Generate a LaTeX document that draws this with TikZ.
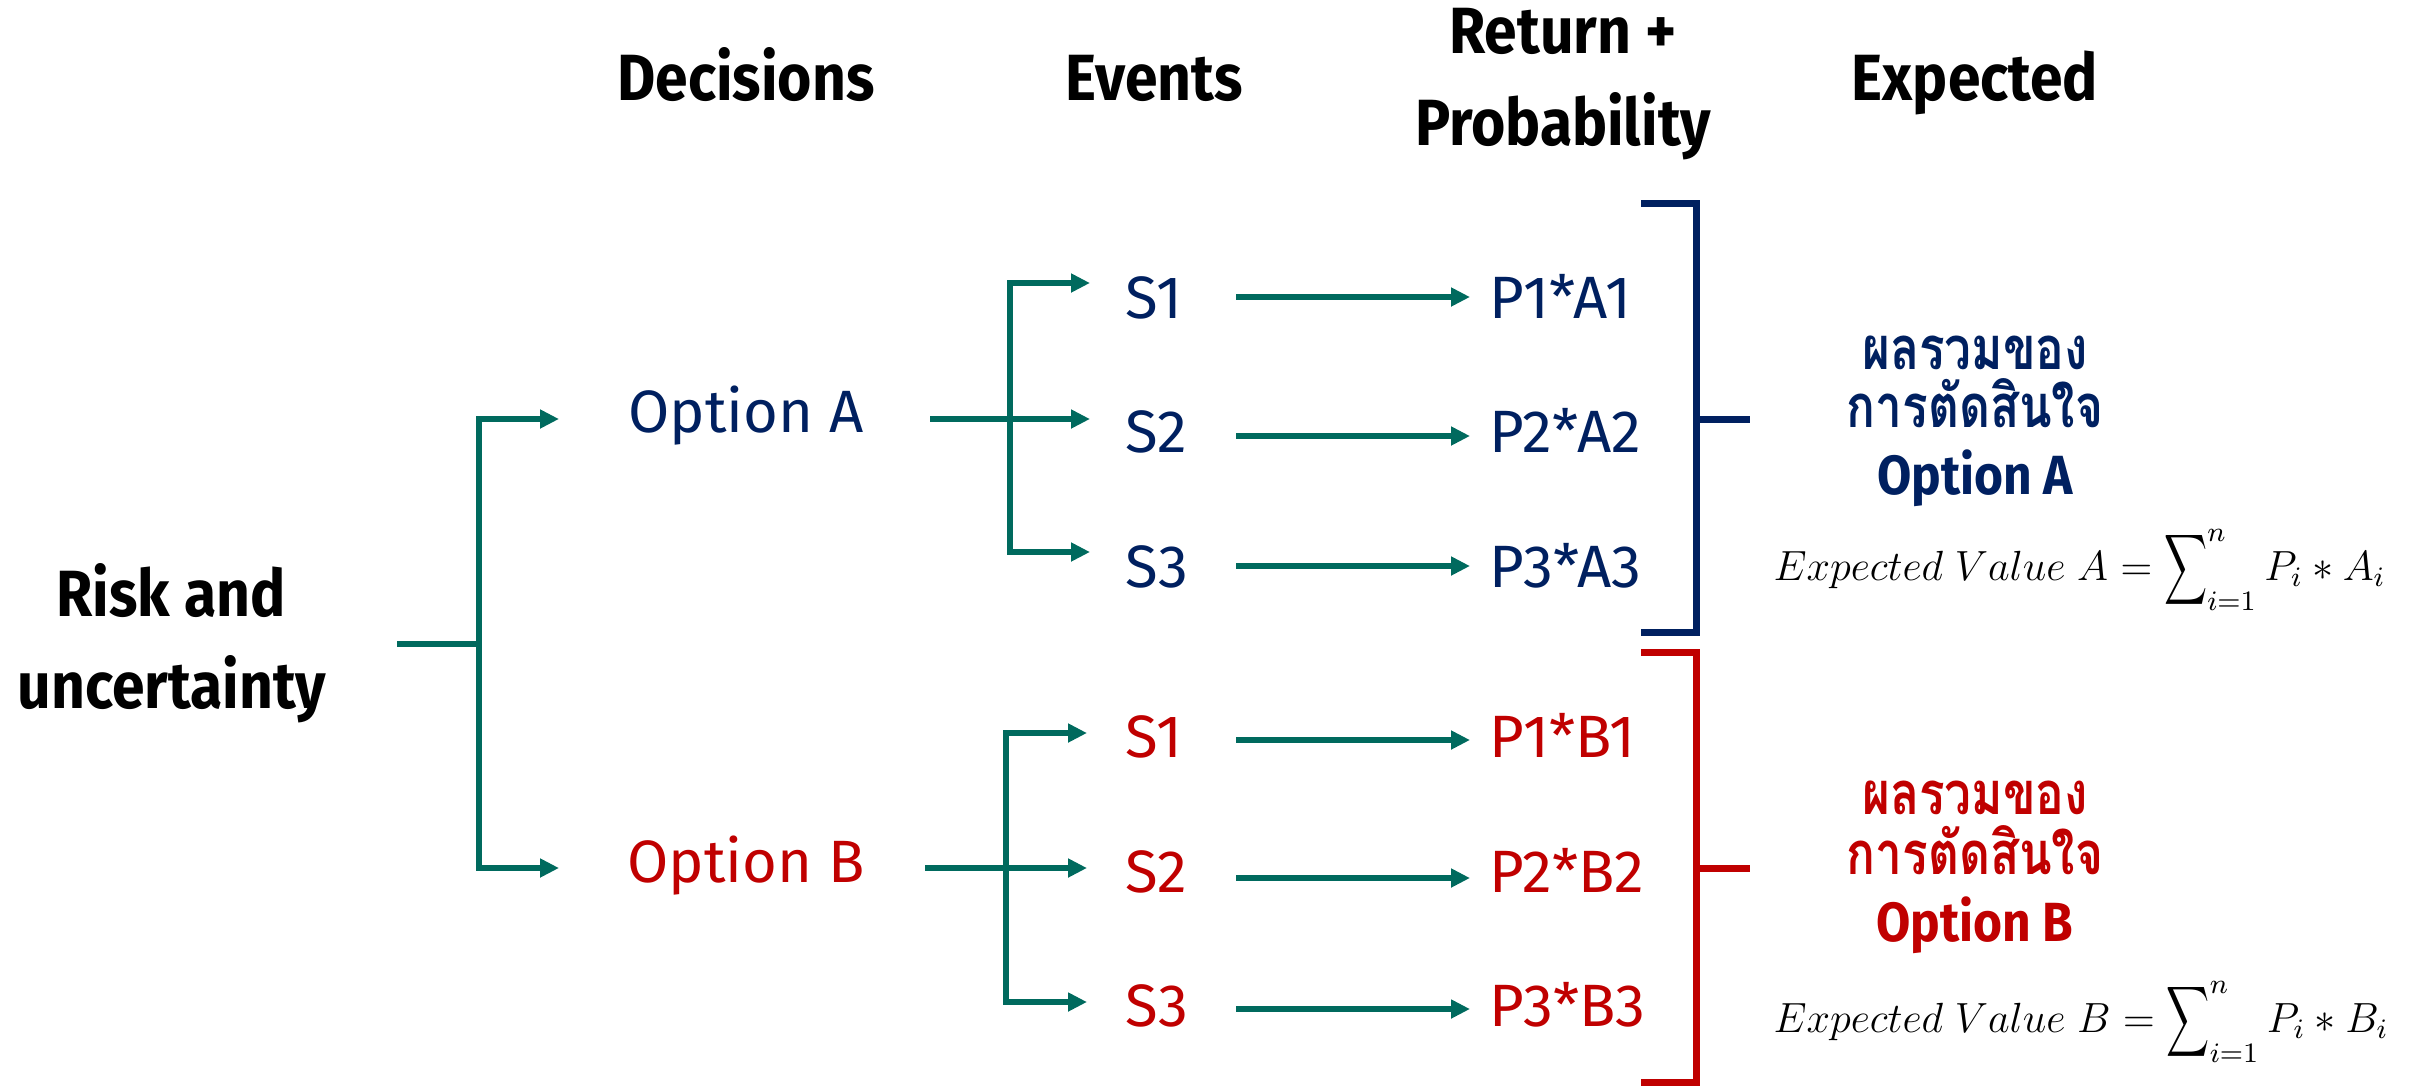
\documentclass[tikz,border=0pt]{standalone}
\usepackage{fontspec}
\usepackage{graphicx}
\setmainfont{Fira Sans}[BoldFeatures={FakeStretch=0.9}]
\newfontfamily\thaifont[Script=Thai, FakeStretch=0.8]{Loma}
\usetikzlibrary{arrows.meta}
\definecolor{navy}{HTML}{002060}
\definecolor{redc}{HTML}{C00000}
\definecolor{tealc}{HTML}{006A5E}
\newcommand{\bigsumop}{\mathop{\vcenter{\hbox{\scalebox{0.85}[1.4]{$\displaystyle\sum$}}}}\nolimits}
\begin{document}
\begin{tikzpicture}[x=0.1mm,y=-0.1mm,
  tline/.style={draw=tealc, line width=0.6mm},
  tarrow/.style={draw=tealc, line width=0.6mm, -{Triangle[length=1.9mm,width=1.8mm]}},
  hdr/.style={font=\fontsize{18.6}{26.2}\selectfont\bfseries, align=center, inner sep=0, anchor=base},
  lbl/.style={font=\fontsize{17}{20}\selectfont, inner sep=0},
  bracketA/.style={draw=navy, line width=0.7mm},
  bracketB/.style={draw=redc, line width=0.7mm},
  sumlbl/.style={font=\fontsize{15.7}{17.6}\selectfont\bfseries, inner sep=0, anchor=base, text height=11pt, text depth=2.5pt},
  thailbl/.style={font=\thaifont\fontsize{17}{18}\selectfont\bfseries, inner sep=0, anchor=base, text height=13pt, text depth=1pt},
  formula/.style={font=\fontsize{11.7}{14}\selectfont, inner sep=0, anchor=base west}
]
\useasboundingbox (0,0) rectangle (2410,1087);

% headers
\node[hdr] (hdec) at (746,100) {Decisions};
\node[hdr] (hev) at (1154,100) {Events};
\node[hdr] (hret) at (1563,53) {Return +};
\node[hdr] (hprob) at (1563,145) {Probability};
\node[hdr] (hexp) at (1975,100) {Expected};

% root
\node[hdr] (risk1) at (171,616) {Risk and};
\node[hdr] (risk2) at (172,708) {uncertainty};

% options
\node[lbl, text=navy, anchor=base] (optA) at (746,432) {Option A};
\node[lbl, text=redc, anchor=base] (optB) at (746,882) {Option B};

% events
\node[lbl, text=navy, anchor=base west] (sA1) at (1125,318) {S1};
\node[lbl, text=navy, anchor=base west] (sA2) at (1125,452) {S2};
\node[lbl, text=navy, anchor=base west] (sA3) at (1125,587) {S3};
\node[lbl, text=redc, anchor=base west] (sB1) at (1125,757) {S1};
\node[lbl, text=redc, anchor=base west] (sB2) at (1125,892) {S2};
\node[lbl, text=redc, anchor=base west] (sB3) at (1125,1026) {S3};

% results
\node[lbl, text=navy, anchor=base west] (pA1) at (1489,318) {P1*A1};
\node[lbl, text=navy, anchor=base west] (pA2) at (1489,452) {P2*A2};
\node[lbl, text=navy, anchor=base west] (pA3) at (1489,587) {P3*A3};
\node[lbl, text=redc, anchor=base west] (pB1) at (1489,757) {P1*B1};
\node[lbl, text=redc, anchor=base west] (pB2) at (1489,892) {P2*B2};
\node[lbl, text=redc, anchor=base west] (pB3) at (1489,1026) {P3*B3};

% summaries
\node[thailbl, text=navy] (tA1) at (1975,369) {ผลรวมของ};
\node[thailbl, text=navy] (tA2) at (1975,427) {การตัดสินใจ};
\node[sumlbl, text=navy] (tA3) at (1975,494) {Option A};
\node[thailbl, text=redc] (tB1) at (1975,814) {ผลรวมของ};
\node[thailbl, text=redc] (tB2) at (1975,874) {การตัดสินใจ};
\node[sumlbl, text=redc] (tB3) at (1975,941) {Option B};

\node[formula] (evA) at (1773,580) {$Expected\;Value\;A = \bigsumop_{i=1}^{n} P_i * A_i$};
\node[formula] (evB) at (1773,1032) {$Expected\;Value\;B = \bigsumop_{i=1}^{n} P_i * B_i$};

% root tree
\coordinate (rootout) at (397,644);
\coordinate (j0) at (479,644);
\coordinate (optAin) at (559,419);
\coordinate (optBin) at (559,868);
\draw[tline] (rootout) -- (j0);
\draw[tarrow] (j0) |- (optAin);
\draw[tarrow] (j0) |- (optBin);

% option A tree
\coordinate (optAout) at (930,419);
\coordinate (jA) at (1010,419);
\coordinate (sA1in) at (1090,283);
\coordinate (sA2in) at (1090,419);
\coordinate (sA3in) at (1090,552);
\draw[tline] (optAout) -- (jA);
\draw[tarrow] (jA) |- (sA1in);
\draw[tarrow] (jA) -- (sA2in);
\draw[tarrow] (jA) |- (sA3in);

% option B tree
\coordinate (optBout) at (925,868);
\coordinate (jB) at (1006,868);
\coordinate (sB1in) at (1087,733);
\coordinate (sB2in) at (1087,868);
\coordinate (sB3in) at (1087,1002);
\draw[tline] (optBout) -- (jB);
\draw[tarrow] (jB) |- (sB1in);
\draw[tarrow] (jB) -- (sB2in);
\draw[tarrow] (jB) |- (sB3in);

% event -> result arrows
\foreach \n/\y in {A1/297,A2/436,A3/566,B1/740,B2/878,B3/1009}{
  \coordinate (e\n) at (1236,\y);
  \coordinate (r\n) at (1470,\y);
  \draw[tarrow] (e\n) -- (r\n);
}

% brackets
\coordinate (bAt) at (1641,203);
\coordinate (bAb) at (1641,632);
\coordinate (bAm) at (1696,419);
\coordinate (bAtick) at (1750,419);
\draw[bracketA] (bAt) -- (1696,203) -- (1696,632) -- (bAb);
\draw[bracketA] (bAm) -- (bAtick);

\coordinate (bBt) at (1641,652);
\coordinate (bBb) at (1641,1082);
\coordinate (bBm) at (1696,868);
\coordinate (bBtick) at (1750,868);
\draw[bracketB] (bBt) -- (1696,652) -- (1696,1082) -- (bBb);
\draw[bracketB] (bBm) -- (bBtick);
\end{tikzpicture}
\end{document}
